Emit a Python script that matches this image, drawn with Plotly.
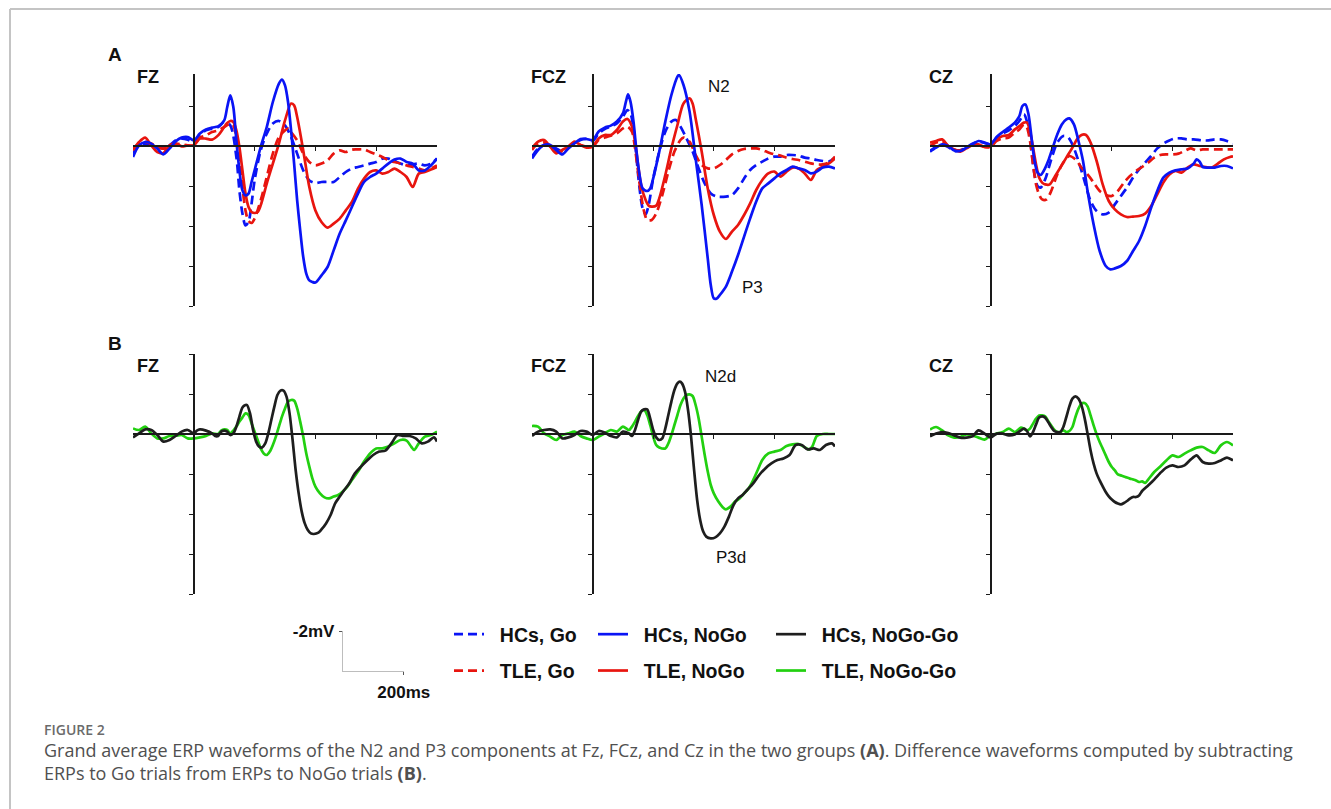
import plotly.graph_objects as go

W, H = 1331, 809

# ---------------- data: time (ms) and amplitude (uV); negative is drawn upward ----------------
# Panel A, Fz
FZ_HC_NOGO_T = [-200,-180,-160,-140,-120,-100,-80,-60,-40,-20,0,20,40,60,80,100,110,120,130,140,150,160,170,180,190,200,220,240,260,280,290,300,310,320,330,340,350,360,370,380,390,400,420,440,460,480,500,520,540,560,580,600,620,640,660,680,700,720,740,760,780,800]
FZ_HC_NOGO_V = [0.55,-0.03,-0.2,-0.12,0.13,0.42,0.13,-0.23,-0.42,-0.45,-0.28,-0.62,-0.83,-0.92,-0.98,-1.28,-1.95,-2.53,-1.95,-0.28,1.22,2.22,2.47,2.38,1.8,1.22,0.05,-0.95,-2.2,-3.12,-3.32,-3.03,-2.2,-0.78,0.88,2.72,4.22,5.55,6.38,6.72,6.8,6.83,6.47,6.05,5.22,4.38,3.72,3.05,2.38,1.8,1.55,1.38,1.13,0.88,0.68,0.63,0.8,0.88,1.22,1.22,0.97,0.63]
FZ_HC_GO_T = [-200,-180,-160,-140,-120,-100,-80,-60,-40,-20,0,20,40,60,80,100,120,140,150,160,170,180,190,200,220,240,260,280,300,320,340,360,380,400,420,440,460,480,500,520,540,560,580,600,620,640,660,680,700,720,740,760,780,800]
FZ_HC_GO_V = [0.38,-0.03,-0.12,-0.03,0.05,0.13,-0.03,-0.28,-0.37,-0.32,-0.2,-0.58,-0.78,-0.87,-0.95,-1.2,-1.03,0.55,2.22,3.38,3.97,3.8,2.88,1.72,0.22,-0.62,-1.12,-1.25,-1.03,-0.45,0.38,1.22,1.72,1.85,1.8,1.8,1.8,1.55,1.3,1.13,1.05,0.97,0.88,0.8,0.63,0.63,0.75,0.88,0.97,0.92,0.88,0.97,0.88,0.63]
FZ_TLE_NOGO_T = [-200,-180,-160,-140,-120,-100,-80,-60,-40,-20,0,20,40,60,80,100,110,120,130,140,150,160,170,180,190,200,210,220,240,260,280,300,320,330,340,360,380,400,420,440,460,480,500,520,540,560,580,600,620,640,660,680,700,720,740,760,780,800]
FZ_TLE_NOGO_V = [0.22,-0.2,-0.42,-0.03,0.3,0.35,-0.03,-0.12,0.02,-0.03,-0.03,-0.37,-0.37,-0.32,-0.53,-0.95,-1.15,-1.25,-1.2,-0.78,0.05,1.22,2.38,3.05,3.3,3.35,3.3,2.97,1.88,0.88,-0.12,-1.28,-2.12,-2.03,-1.45,0.22,2.05,3.22,3.8,4.08,3.88,3.63,3.22,2.8,2.13,1.63,1.3,1.22,1.38,1.3,1.13,1.3,1.55,2.05,1.38,1.3,1.18,1.05]
FZ_TLE_GO_T = [-200,-180,-160,-140,-120,-100,-80,-60,-40,-20,0,20,40,60,80,100,120,130,140,150,160,170,180,190,200,220,240,260,280,300,310,320,340,360,380,400,420,440,460,480,500,520,540,560,580,600,620,640,660,680,700,720,740,760,780,800]
FZ_TLE_GO_V = [0.13,-0.12,-0.2,-0.12,0.05,0.13,-0.03,-0.12,-0.08,-0.03,-0.03,-0.42,-0.53,-0.7,-0.78,-0.95,-1.12,-1.03,-0.45,0.72,2.05,3.22,3.75,3.85,3.63,2.72,1.55,0.38,-0.45,-0.78,-0.87,-0.7,-0.28,0.38,0.8,0.97,0.88,0.72,0.38,0.22,0.3,0.18,0.17,0.17,0.3,0.42,0.55,0.72,0.8,0.88,0.97,1.05,1.13,1.22,1.13,0.97]

# Panel A, FCz
FCZ_HC_NOGO_T = [-200,-180,-160,-140,-120,-100,-80,-60,-40,-20,0,20,40,60,80,100,110,117,125,135,145,155,165,180,190,200,220,240,260,280,285,300,320,340,360,380,390,400,410,420,440,460,480,500,520,540,560,580,600,620,640,660,680,700,720,740,760,780,800]
FCZ_HC_NOGO_V = [0.62,0.2,-0.05,-0.05,0.2,0.42,0.12,-0.13,-0.35,-0.35,-0.3,-0.72,-0.92,-1.02,-1.22,-1.63,-2.22,-2.58,-2.22,-1.22,0.28,1.45,2.12,2.25,2.12,1.62,0.28,-1.22,-2.55,-3.47,-3.55,-3.05,-1.72,0.62,2.95,5.62,6.95,7.62,7.62,7.45,7.03,6.28,5.45,4.53,3.62,2.78,2.12,1.87,1.62,1.37,1.2,1.03,1.12,1.2,1.37,1.28,1.08,1.03,1.12]
FCZ_HC_GO_T = [-200,-180,-160,-140,-120,-100,-80,-60,-40,-20,0,20,40,60,80,100,115,125,135,145,155,165,175,185,200,220,240,260,275,290,310,330,350,370,390,410,440,460,480,500,520,540,560,580,600,620,640,660,680,700,720,740,760,780,800]
FCZ_HC_GO_V = [0.53,0.12,-0.05,-0.05,0.12,0.28,0.08,-0.13,-0.3,-0.35,-0.25,-0.63,-0.85,-0.97,-1.13,-1.47,-1.8,-1.63,-0.88,0.62,2.12,3.12,3.42,2.95,1.62,0.28,-0.72,-1.22,-1.3,-0.97,-0.38,0.28,1.12,1.87,2.37,2.53,2.53,2.45,2.12,1.62,1.2,0.95,0.78,0.62,0.53,0.53,0.45,0.45,0.48,0.58,0.62,0.7,0.75,0.78,0.58]
FCZ_TLE_NOGO_T = [-200,-180,-160,-140,-120,-100,-80,-60,-40,-20,0,20,40,60,80,100,115,130,140,150,160,175,185,195,210,220,240,260,280,300,320,330,340,360,380,400,420,440,460,480,500,520,540,560,580,600,620,640,660,680,700,720,740,760,780,800]
FCZ_TLE_NOGO_V = [0.12,-0.22,-0.3,0.03,0.37,0.2,0.03,-0.22,-0.05,0.08,0.03,-0.38,-0.55,-0.55,-0.8,-1.22,-1.35,-0.97,-0.22,0.95,1.95,2.7,2.98,3.03,2.98,2.62,1.45,0.12,-1.05,-2.13,-2.38,-2.13,-1.38,0.28,2.12,3.45,4.28,4.65,4.28,3.95,3.45,2.87,2.2,1.7,1.37,1.28,1.53,1.28,1.08,1.12,1.37,1.7,1.2,1.03,0.87,0.62]
FCZ_TLE_GO_T = [-200,-180,-160,-140,-120,-100,-80,-60,-40,-20,0,20,40,60,80,100,115,130,140,150,160,170,180,195,210,230,250,270,290,300,320,340,360,380,400,420,440,460,480,500,520,540,560,580,600,620,640,660,680,700,720,740,760,780,800]
FCZ_TLE_GO_V = [0.2,-0.13,-0.18,0.03,0.28,0.25,0.03,-0.13,-0.05,0.03,0.03,-0.3,-0.42,-0.52,-0.63,-0.88,-0.97,-0.72,0.12,1.28,2.45,3.28,3.7,3.7,3.37,2.45,1.28,0.28,-0.3,-0.42,-0.22,0.45,0.95,1.12,1.12,0.95,0.7,0.42,0.25,0.15,0.12,0.12,0.2,0.32,0.42,0.48,0.58,0.65,0.7,0.78,0.87,0.92,0.92,0.82,0.53]

# Panel A, Cz
CZ_HC_NOGO_T = [-200,-180,-160,-140,-120,-100,-80,-60,-40,-20,0,20,40,60,80,95,105,115,125,135,145,155,165,175,190,205,220,235,250,260,275,290,305,320,340,360,380,395,410,430,450,470,490,510,530,550,570,590,610,630,650,670,680,690,700,720,740,760,780,800]
CZ_HC_NOGO_V = [0.28,0.08,-0.08,0,0.22,0.25,0.08,-0.08,-0.25,-0.17,-0.08,-0.45,-0.7,-0.92,-1.17,-1.5,-2.0,-2.08,-1.58,-0.42,0.75,1.33,1.45,1.25,0.75,0.08,-0.58,-1.08,-1.33,-1.38,-1.08,-0.25,0.75,2.25,3.92,5.25,6.0,6.17,6.12,6.0,5.75,5.25,4.75,4.0,3.08,2.25,1.58,1.33,1.22,1.17,1.12,0.88,0.67,0.78,1.05,1.08,1.08,1.0,1.0,1.12]
CZ_HC_GO_T = [-200,-180,-160,-140,-120,-100,-80,-60,-40,-20,0,20,40,60,80,95,110,125,135,145,155,165,180,200,220,240,255,270,290,310,330,350,370,390,410,430,450,470,490,510,530,550,570,590,610,630,650,670,700,720,740,760,780,800]
CZ_HC_GO_V = [0.25,0.05,-0.05,0.05,0.25,0.22,0.08,-0.12,-0.22,-0.15,-0.08,-0.42,-0.62,-0.78,-1.0,-1.25,-1.58,-0.92,0.25,1.42,2.0,2.08,1.67,0.67,-0.17,-0.5,-0.45,-0.08,0.75,1.75,2.75,3.25,3.42,3.33,2.92,2.5,2.08,1.58,1.17,0.83,0.5,0.12,-0.12,-0.28,-0.38,-0.38,-0.33,-0.33,-0.28,-0.28,-0.33,-0.33,-0.25,-0.12]
CZ_TLE_NOGO_T = [-200,-180,-160,-140,-120,-100,-80,-60,-40,-20,0,20,40,60,80,95,110,120,130,140,150,160,170,180,195,210,230,250,270,285,300,315,330,350,370,390,410,430,450,470,490,510,530,550,570,590,610,630,650,670,690,710,730,750,770,790,800]
CZ_TLE_NOGO_V = [-0.17,-0.25,-0.33,0,0.17,0.28,0.12,-0.05,-0.08,0.05,0,-0.33,-0.5,-0.55,-0.83,-1.0,-1.17,-1.17,-0.75,0.08,0.92,1.58,1.83,1.92,1.92,1.58,1.08,0.58,0.08,-0.33,-0.55,-0.55,-0.17,0.75,1.92,2.75,3.17,3.42,3.55,3.53,3.5,3.38,3.0,2.42,1.83,1.42,1.25,1.33,1.08,0.92,1.0,1.05,1.08,0.88,0.67,0.55,0.52]
CZ_TLE_GO_T = [-200,-180,-160,-140,-120,-100,-80,-60,-40,-20,0,20,40,60,80,95,110,120,130,140,150,160,170,185,200,220,240,260,280,300,320,340,360,380,400,420,440,460,480,500,520,540,560,580,600,620,640,660,680,700,720,740,760,780,800]
CZ_TLE_GO_V = [0,-0.17,-0.25,0,0.17,0.22,0.08,-0.05,-0.05,0.05,0.05,-0.25,-0.38,-0.42,-0.67,-0.83,-1.08,-0.92,-0.25,0.92,1.92,2.42,2.67,2.67,2.25,1.42,0.83,0.5,0.67,1.08,1.42,1.83,2.25,2.45,2.5,2.25,1.83,1.5,1.25,1.05,0.83,0.58,0.45,0.42,0.42,0.38,0.25,0.12,0.22,0.17,0.17,0.17,0.17,0.17,0.17]

# Panel B (NoGo - Go difference waves)
FZ_HC_DIFF_T = [-200,-180,-160,-140,-120,-100,-80,-60,-40,-20,0,10,20,40,60,70,80,90,100,110,120,130,140,150,160,170,175,185,195,205,215,225,235,245,255,265,275,285,295,305,315,325,335,345,355,365,375,385,395,410,420,435,450,465,480,495,510,530,550,570,590,610,630,650,670,690,710,730,750,770,790,800]
FZ_HC_DIFF_V = [0.17,-0.03,-0.23,-0.2,0.05,0.38,0.3,0.1,-0.12,-0.2,-0.03,-0.17,-0.23,-0.17,-0.03,0.1,0.1,-0.12,-0.17,-0.12,0.05,-0.03,-0.37,-0.87,-1.33,-1.45,-1.45,-1.03,-0.2,0.38,0.63,0.67,0.47,-0.03,-0.7,-1.37,-1.95,-2.17,-2.17,-1.87,-1.03,0.3,1.8,2.97,3.88,4.47,4.8,4.97,5.0,4.93,4.77,4.47,4.05,3.47,3.13,2.8,2.5,1.97,1.63,1.33,1.05,0.88,0.83,0.47,0.05,0.1,0.1,0.22,0.47,0.38,0.17,0.38]
FZ_TLE_DIFF_T = [-200,-180,-160,-140,-120,-100,-80,-60,-40,-20,0,20,40,60,80,90,100,110,120,130,140,150,160,170,180,190,200,210,220,230,240,250,260,270,280,290,300,310,320,330,340,350,360,370,380,390,400,415,430,445,460,475,490,505,520,540,560,580,600,620,640,660,680,700,715,725,740,760,780,800]
FZ_TLE_DIFF_V = [-0.28,-0.2,-0.37,-0.03,0.22,0.22,0.1,0.1,0.05,0.22,0.22,0.17,0.1,-0.03,0,-0.17,-0.23,-0.2,-0.03,-0.17,-0.37,-0.62,-0.83,-1.03,-0.95,-0.53,-0.12,0.3,0.72,0.97,1.05,0.88,0.55,0.13,-0.37,-0.87,-1.28,-1.62,-1.7,-1.67,-1.28,-0.62,0.13,0.97,1.63,2.22,2.63,2.97,3.17,3.22,3.13,3.05,2.88,2.63,2.3,1.88,1.38,0.97,0.72,0.72,0.63,0.47,0.3,0.33,0.63,0.8,0.47,0.13,0.05,-0.12]
FCZ_HC_DIFF_T = [-200,-180,-160,-140,-120,-100,-80,-60,-40,-20,0,20,40,60,80,100,120,130,140,150,160,170,180,190,200,210,220,230,240,250,260,270,280,288,295,305,315,325,335,345,355,365,375,390,405,420,435,450,465,480,495,510,530,550,570,590,610,630,650,670,690,710,730,750,770,790,800]
FCZ_HC_DIFF_V = [0.1,-0.12,-0.2,-0.23,-0.12,0.22,0.17,0.05,-0.15,-0.12,0.05,-0.15,-0.07,0.1,0.17,-0.12,-0.03,0.1,-0.2,-0.7,-1.12,-1.23,-1.23,-0.78,-0.2,0.17,0.3,0.22,-0.28,-0.95,-1.62,-2.2,-2.53,-2.62,-2.53,-2.12,-1.2,0.13,1.8,3.3,4.3,4.88,5.13,5.22,5.17,4.97,4.63,4.13,3.55,3.22,3.05,2.8,2.47,2.05,1.72,1.47,1.3,1.22,1.05,0.55,0.55,0.77,0.72,0.8,0.55,0.47,0.63]
FCZ_TLE_DIFF_T = [-200,-180,-160,-140,-120,-100,-80,-60,-40,-20,0,20,40,60,80,100,120,130,140,150,160,170,180,190,200,210,220,240,250,260,270,280,290,300,310,320,330,340,350,360,370,380,390,400,415,430,440,455,470,485,500,515,530,545,560,580,600,620,640,660,680,700,715,725,740,760,780,800]
FCZ_TLE_DIFF_V = [-0.4,-0.37,-0.03,0.13,0.3,0.05,-0.03,-0.12,0.1,0.22,0.3,0.13,-0.03,-0.2,-0.12,-0.37,-0.2,-0.37,-0.62,-0.9,-1.12,-1.2,-0.95,-0.45,0.13,0.55,0.67,0.72,0.47,0.05,-0.45,-0.95,-1.45,-1.78,-1.95,-1.98,-1.9,-1.45,-0.78,0.13,1.05,1.88,2.55,2.97,3.38,3.67,3.77,3.63,3.38,3.22,2.97,2.72,2.3,1.8,1.3,0.97,0.88,0.8,0.6,0.52,0.5,0.67,0.77,0.63,0.1,0,0,0]
CZ_HC_DIFF_T = [-200,-180,-160,-140,-120,-100,-80,-60,-40,-20,0,20,40,60,80,100,110,120,130,140,150,160,170,180,190,200,210,220,230,240,250,260,270,280,290,300,310,320,330,340,350,360,370,380,390,400,410,420,430,440,450,460,470,480,490,500,520,540,560,580,600,620,640,660,680,690,700,720,740,760,780,800]
CZ_HC_DIFF_V = [0.12,-0.02,-0.1,-0.05,0.07,0.18,0.18,0.12,-0.18,-0.02,0.18,-0.02,-0.02,0.07,0.02,-0.18,-0.27,-0.15,0.12,-0.1,-0.48,-0.82,-0.88,-0.82,-0.6,-0.35,-0.15,-0.1,-0.1,-0.35,-0.85,-1.38,-1.77,-1.88,-1.77,-1.43,-0.82,-0.02,0.82,1.48,1.98,2.32,2.62,2.9,3.12,3.28,3.4,3.48,3.52,3.45,3.35,3.23,3.15,3.15,3.07,2.85,2.57,2.28,1.95,1.68,1.57,1.65,1.57,1.28,1.07,1.23,1.4,1.48,1.45,1.32,1.18,1.32]
CZ_TLE_DIFF_T = [-200,-180,-160,-140,-120,-100,-80,-60,-40,-20,0,20,40,60,80,100,110,120,130,140,150,160,170,180,190,200,210,220,230,240,250,260,270,280,290,300,310,320,330,340,350,360,370,380,390,400,410,420,430,440,450,460,470,480,490,500,510,520,540,560,580,600,620,640,660,680,700,720,740,760,780,800]
CZ_TLE_DIFF_V = [-0.22,-0.35,-0.18,0.07,0.18,0.15,0.02,0.07,0.18,0.28,0.07,-0.02,-0.1,-0.27,-0.1,-0.32,-0.27,-0.18,-0.27,-0.52,-0.77,-0.93,-0.93,-0.88,-0.65,-0.43,-0.22,-0.1,-0.1,-0.18,-0.1,-0.15,-0.35,-0.85,-1.27,-1.52,-1.55,-1.38,-0.93,-0.43,0.02,0.4,0.73,1.07,1.4,1.65,1.82,2.02,2.07,2.12,2.18,2.23,2.27,2.32,2.4,2.37,2.45,2.28,1.9,1.62,1.32,1.07,1.15,0.98,0.82,0.68,0.65,0.82,0.95,0.57,0.4,0.57]

ELECTRODES = ["FZ", "FCZ", "CZ"]
X_TICKS = [200, 400, 600]
Y_TICKS_A = [-2, 0, 2, 4, 6, 8]
Y_TICKS_B = [-4, -2, 0, 2, 4, 6, 8]
SCALE_MS = 200
SCALE_UV = -2

# ---------------- styling / layout constants ----------------
BLUE, RED, BLACK, GREEN = "#0a14f5", "#e8150f", "#1e1e1e", "#22d010"
LW = 2.7
DASH = "9px,5px"
FONT = "Liberation Sans"

def fx(p): return p / W
def fy(p): return 1 - p / H

COL_PX = [(133, 437), (532, 835), (930, 1233)]
ROW_A = dict(top=74, bottom=306, rng=[8, -3.6], ticks=Y_TICKS_A)
ROW_B = dict(top=354, bottom=594, rng=[8, -4], ticks=Y_TICKS_B)
XR = [-200, 800]

panels = [
    (ROW_A, 0, [("HCs, Go", FZ_HC_GO_T, FZ_HC_GO_V, BLUE, DASH, "legend", 1),
                ("TLE, Go", FZ_TLE_GO_T, FZ_TLE_GO_V, RED, DASH, "legend", 2),
                ("TLE, NoGo", FZ_TLE_NOGO_T, FZ_TLE_NOGO_V, RED, "solid", "legend2", 2),
                ("HCs, NoGo", FZ_HC_NOGO_T, FZ_HC_NOGO_V, BLUE, "solid", "legend2", 1)]),
    (ROW_A, 1, [("HCs, Go", FCZ_HC_GO_T, FCZ_HC_GO_V, BLUE, DASH, "legend", 1),
                ("TLE, Go", FCZ_TLE_GO_T, FCZ_TLE_GO_V, RED, DASH, "legend", 2),
                ("TLE, NoGo", FCZ_TLE_NOGO_T, FCZ_TLE_NOGO_V, RED, "solid", "legend2", 2),
                ("HCs, NoGo", FCZ_HC_NOGO_T, FCZ_HC_NOGO_V, BLUE, "solid", "legend2", 1)]),
    (ROW_A, 2, [("HCs, Go", CZ_HC_GO_T, CZ_HC_GO_V, BLUE, DASH, "legend", 1),
                ("TLE, Go", CZ_TLE_GO_T, CZ_TLE_GO_V, RED, DASH, "legend", 2),
                ("TLE, NoGo", CZ_TLE_NOGO_T, CZ_TLE_NOGO_V, RED, "solid", "legend2", 2),
                ("HCs, NoGo", CZ_HC_NOGO_T, CZ_HC_NOGO_V, BLUE, "solid", "legend2", 1)]),
    (ROW_B, 0, [("TLE, NoGo-Go", FZ_TLE_DIFF_T, FZ_TLE_DIFF_V, GREEN, "solid", "legend3", 2),
                ("HCs, NoGo-Go", FZ_HC_DIFF_T, FZ_HC_DIFF_V, BLACK, "solid", "legend3", 1)]),
    (ROW_B, 1, [("TLE, NoGo-Go", FCZ_TLE_DIFF_T, FCZ_TLE_DIFF_V, GREEN, "solid", "legend3", 2),
                ("HCs, NoGo-Go", FCZ_HC_DIFF_T, FCZ_HC_DIFF_V, BLACK, "solid", "legend3", 1)]),
    (ROW_B, 2, [("TLE, NoGo-Go", CZ_TLE_DIFF_T, CZ_TLE_DIFF_V, GREEN, "solid", "legend3", 2),
                ("HCs, NoGo-Go", CZ_HC_DIFF_T, CZ_HC_DIFF_V, BLACK, "solid", "legend3", 1)]),
]

fig = go.Figure()
layout = {}
seen = set()
AX_COLOR = "#1a1a1a"

for i, (row, col, traces) in enumerate(panels, start=1):
    c0, c1 = COL_PX[col]
    xd = [fx(c0), fx(c1)]
    yd = [fy(row["bottom"]), fy(row["top"])]
    lo, hi = row["rng"]
    zero_pos = yd[0] + (lo - 0) / (lo - hi) * (yd[1] - yd[0])
    x0_pos = xd[0] + (0 - XR[0]) / (XR[1] - XR[0]) * (xd[1] - xd[0])
    sfx = "" if i == 1 else str(i)
    layout["xaxis" + sfx] = dict(domain=xd, range=XR, anchor="free", position=zero_pos,
                                 showline=True, linecolor=AX_COLOR, linewidth=1.6,
                                 ticks="outside", tickvals=X_TICKS, ticklen=4, tickwidth=1.4,
                                 tickcolor=AX_COLOR, showticklabels=False, showgrid=False,
                                 zeroline=False, fixedrange=True, automargin=False)
    layout["yaxis" + sfx] = dict(domain=yd, range=row["rng"], anchor="free", position=x0_pos,
                                 side="left", showline=True, linecolor=AX_COLOR, linewidth=1.6,
                                 ticks="outside", tickvals=row["ticks"], ticklen=4, tickwidth=1.4,
                                 tickcolor=AX_COLOR, showticklabels=False, showgrid=False,
                                 zeroline=False, fixedrange=True, automargin=False)
    for name, t, v, color, dash, leg, rank in traces:
        show = name not in seen
        seen.add(name)
        fig.add_trace(go.Scatter(
            x=t, y=v, mode="lines", name="\u00a0\u00a0" + name, legend=leg, legendgroup=name,
            legendrank=rank, showlegend=show, hoverinfo="skip",
            line=dict(color=color, width=LW, dash=dash, shape="spline", smoothing=0.8),
            xaxis="x" + sfx, yaxis="y" + sfx, cliponaxis=False))

# scale bar axes (2 uV x 200 ms), same scale as the panels
sb_left = 343
sb_bottom = 671
px_per_ms = (COL_PX[0][1] - COL_PX[0][0]) / (XR[1] - XR[0])
px_per_uv = (ROW_A["bottom"] - ROW_A["top"]) / (ROW_A["rng"][0] - ROW_A["rng"][1])
layout["xaxis7"] = dict(domain=[fx(sb_left), fx(sb_left + SCALE_MS * px_per_ms)], range=[0, SCALE_MS],
                        anchor="y7", showline=True, linecolor="#bdbdbd", linewidth=1.3,
                        ticks="outside", tickvals=[SCALE_MS], ticktext=["200ms"], ticklen=3,
                        tickcolor="#555", tickwidth=1.2, showgrid=False, zeroline=False,
                        tickfont=dict(family=FONT, size=17, color="#111", weight="bold"),
                        ticklabelstandoff=2, fixedrange=True, automargin=False)
layout["yaxis7"] = dict(domain=[fy(sb_bottom), fy(sb_bottom - abs(SCALE_UV) * px_per_uv)],
                        range=[0, SCALE_UV], anchor="x7", showline=True, linecolor="#bdbdbd",
                        linewidth=1.3, ticks="outside", tickvals=[SCALE_UV], ticktext=["-2mV"],
                        ticklen=3, tickcolor="#555", tickwidth=1.2, showgrid=False, zeroline=False,
                        tickfont=dict(family=FONT, size=17, color="#111", weight="bold"),
                        ticklabelstandoff=1, fixedrange=True, automargin=False)
fig.add_trace(go.Scatter(x=[0, SCALE_MS], y=[0, 0], mode="lines", line=dict(width=0),
                         opacity=0, showlegend=False, hoverinfo="skip", xaxis="x7", yaxis="y7"))

leg_common = dict(orientation="v", xanchor="left", yanchor="top", bgcolor="rgba(0,0,0,0)",
                  borderwidth=0, traceorder="grouped", tracegroupgap=8, itemwidth=30,
                  font=dict(family=FONT, size=19.5, color="#111", weight="bold"))
layout["legend"] = dict(leg_common, x=fx(449), y=fy(615))
layout["legend2"] = dict(leg_common, x=fx(593), y=fy(615))
layout["legend3"] = dict(leg_common, x=fx(771), y=fy(615))

annotations = []
def label(text, x, y, size, bold=True, color="#111", family=FONT, xanchor="center"):
    annotations.append(dict(text=("<b>%s</b>" % text) if bold else text, x=fx(x), y=fy(y),
                            xref="paper", yref="paper", xanchor=xanchor, yanchor="middle",
                            showarrow=False, font=dict(family=family, size=size, color=color)))

label("A", 115, 54, 19)
label("B", 115, 343, 19)
centers = [147.5, 548, 940.5]
for name, cx in zip(ELECTRODES, centers):
    label(name, cx, 77, 18)
    label(name, cx, 366, 18)
label("N2", 719, 87, 17, bold=False)
label("P3", 752, 287, 17, bold=False)
label("N2d", 720, 376, 17, bold=False)
label("P3d", 731, 557, 17, bold=False)

annotations.append(dict(text="FIGURE 2", x=fx(42), y=fy(729), xref="paper", yref="paper",
                        xanchor="left", yanchor="middle", showarrow=False,
                        font=dict(family="Open Sans", size=14, color="#6b6b6b", weight=600)))
annotations.append(dict(text="Grand average ERP waveforms of the N2 and P3 components at Fz, FCz, and Cz in the two groups <b>(A)</b>. Difference waveforms computed by subtracting",
                        x=fx(42), y=fy(750), xref="paper", yref="paper", xanchor="left", yanchor="middle",
                        showarrow=False, font=dict(family="Open Sans", size=18, color="#505050")))
annotations.append(dict(text="ERPs to Go trials from ERPs to NoGo trials <b>(B)</b>.",
                        x=fx(42), y=fy(773), xref="paper", yref="paper", xanchor="left", yanchor="middle",
                        showarrow=False, font=dict(family="Open Sans", size=18, color="#505050")))

shapes = [
    dict(type="line", xref="paper", yref="paper", x0=fx(10), x1=1, y0=fy(9), y1=fy(9),
         line=dict(color="#c4c4c4", width=2)),
    dict(type="line", xref="paper", yref="paper", x0=fx(10), x1=fx(10), y0=fy(9), y1=0,
         line=dict(color="#c4c4c4", width=2)),
]

fig.update_layout(width=W, height=H, margin=dict(l=0, r=0, t=0, b=0, pad=0, autoexpand=False),
                  paper_bgcolor="white", plot_bgcolor="rgba(0,0,0,0)",
                  annotations=annotations, shapes=shapes, **layout)
fig.write_html("out.html")
